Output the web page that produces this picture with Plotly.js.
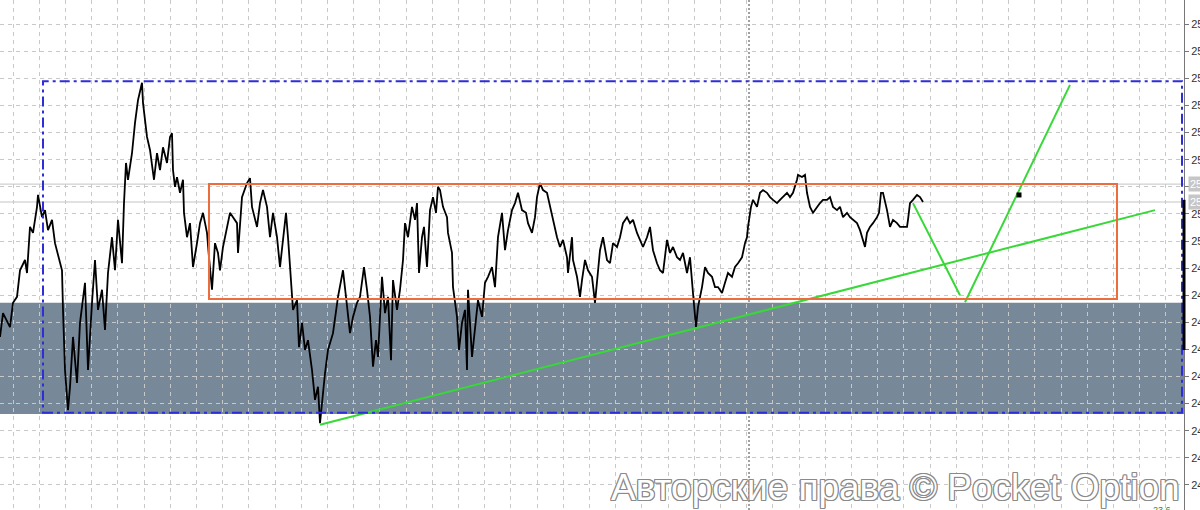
<!DOCTYPE html>
<html>
<head>
<meta charset="utf-8">
<script src="https://cdn.plot.ly/plotly-3.0.1.min.js"></script>
<style>html,body{margin:0;padding:0;background:#fff;}#chart{width:1200px;height:510px;}</style>
</head>
<body>
<div id="chart"></div>
<script>
// Bar index (time axis) of the price series
const barIndex = [0,3,10,13,17,20,25,27,30,33,37,38,42,45,48,52,55,59,62,63,65,67,68,70,73,77,80,85,88,92,95,98,102,105,108,112,115,118,122,124,126,128,132,135,138,142,143,147,150,154,157,160,163,167,170,172,173,175,177,180,183,184,187,190,193,197,200,203,207,209,212,215,218,
220,223,230,237,238,242,247,250,252,257,260,263,267,270,273,277,280,283,286,288,291,293,297,299,302,305,308,312,315,318,320,322,325,328,333,338,343,346,350,353,357,360,364,367,370,373,376,378,382,385,388,391,393,397,400,403,405,408,412,415,417,419,422,424,427,430,433,436,438,
440,443,447,448,452,453,457,459,462,465,467,468,472,475,478,482,485,488,492,495,498,502,505,508,512,515,518,522,526,528,532,535,537,540,543,547,550,553,557,560,563,567,568,572,573,577,580,582,585,588,592,595,597,600,603,607,610,613,617,620,623,627,630,633,637,640,643,647,650,653,657,660,663,667,670,673,677,
680,683,687,690,693,696,698,702,705,708,712,715,718,722,725,728,732,735,738,742,745,747,748,751,753,757,760,763,767,770,773,777,780,783,787,790,793,797,798,802,805,807,810,813,817,820,823,827,830,833,837,840,843,847,850,853,857,860,863,865,867,870,873,877,879,881,883,887,890,893,897,900,903,907,908,910,913,917,920,923];

// Close prices
const price = [24982.3,24986.7,24984.1,24988.6,24989.7,24994.6,24996.5,24994.1,25002.6,25001.5,25006.3,25008.5,25004.4,25005.7,25002.0,25003.9,24999.6,24996.5,24994.6,24987.3,24976.2,24971.2,24968.8,24973.1,24982.3,24973.8,24984.9,24992.3,24976.2,24988.6,24996.5,24987.3,24991.0,24983.6,24994.1,25000.7,24994.6,25003.9,24995.9,25007.0,25014.4,25011.3,25016.2,25021.8,25026.0,25029.2,25025.5,25019.2,25016.8,25011.3,25016.2,25013.1,25017.3,25014.4,25019.2,25019.9,25013.1,25010.0,25011.8,25008.9,25011.3,25005.2,25000.7,25003.3,24995.2,24999.6,25003.3,25005.2,25001.5,24997.0,24991.0,24999.6,24997.8,
24994.6,24998.9,25005.2,25003.3,24997.8,25008.1,25010.7,25011.6,25006.3,25002.6,25007.0,25009.4,25006.3,25000.7,25005.2,25000.7,24995.2,25000.7,25005.2,25000.7,24992.8,24987.3,24989.1,24980.4,24984.9,24979.9,24981.7,24976.2,24970.7,24973.1,24966.4,24970.7,24975.6,24979.9,24983.0,24989.7,24994.6,24989.7,24983.0,24986.0,24988.6,24989.7,24995.2,24991.0,24986.0,24976.8,24981.7,24978.6,24993.4,24986.7,24989.7,24978.0,24992.8,24987.3,24991.0,24996.5,25003.3,25000.7,25006.3,25003.9,25007.0,24994.1,25000.7,25002.6,24995.2,25005.7,25008.1,25005.2,25010.0,
25009.4,25006.3,25004.4,25001.5,24997.8,24991.5,24986.0,24979.9,24984.9,24987.3,24976.2,24991.0,24978.6,24984.1,24989.1,24986.0,24992.3,24993.4,24995.2,24991.5,25000.7,25005.2,24998.3,25002.0,25005.7,25007.0,25008.9,25005.7,25005.2,25003.3,25001.5,25004.4,25008.1,25010.7,25009.4,25008.9,25006.3,25003.9,25000.7,24998.9,25000.2,24997.0,24994.1,25000.7,24996.5,24993.4,24989.7,24992.8,24996.5,24994.6,24993.4,24988.6,24992.8,24998.3,25000.7,24996.5,24995.9,24999.6,24998.9,25000.7,25003.3,25004.4,25003.3,25003.9,25001.5,25000.2,24998.9,25000.7,25002.6,24998.3,24995.9,24994.6,24994.1,25000.2,24997.8,24998.9,24997.0,
24996.5,24997.8,24994.1,24997.0,24990.4,24984.1,24987.8,24991.5,24995.2,24994.1,24993.4,24991.5,24991.5,24990.4,24992.3,24994.1,24993.4,24995.2,24995.9,24997.0,24999.6,25000.7,25002.6,25006.3,25007.6,25006.3,25008.9,25009.4,25008.9,25008.1,25007.6,25007.0,25007.6,25008.1,25008.9,25008.1,25008.9,25011.3,25012.2,25011.8,25012.2,25008.9,25006.3,25005.2,25006.3,25007.0,25007.6,25007.6,25008.1,25006.3,25005.7,25006.3,25004.4,25005.2,25004.4,25003.9,25003.3,25002.0,25000.2,24998.9,25001.5,25002.6,25003.3,25004.4,25005.2,25008.9,25008.9,25005.7,25002.6,25003.9,25003.3,25002.6,25002.6,25002.6,25003.9,25007.0,25007.6,25008.5,25008.1,25007.2];

// Drawn objects (bar index / price)
const supportLineX = [320, 1155];
const supportLineY = [24966.1, 25005.7];
const forecastDownX = [913, 960];
const forecastDownY = [25007.0, 24990.0];
const forecastUpX = [965, 1070];
const forecastUpY = [24988.7, 25028.8];
const targetX = [1019];
const targetY = [25008.5];
const outerBox = {x: [43, 1182], y: [24968.3, 25029.5]};
const rangeBox = {x: [209, 1117], y: [24989.3, 25010.5]};
const demandZone = {y: [24968.1, 24988.6]};
const bidAsk = [25010.5, 25007.2];
const sessionBar = 749;

const X_MAX = 1184;
const Y_RANGE = [24950.37, 25044.47];
const yToPaper = v => (v - Y_RANGE[0]) / (Y_RANGE[1] - Y_RANGE[0]);

const green = '#37d837';
const traces = [
  {x: barIndex, y: price, type: 'scatter', mode: 'lines', line: {color: '#000', width: 1.8}, hoverinfo: 'skip'},
  {x: supportLineX, y: supportLineY, type: 'scatter', mode: 'lines', line: {color: green, width: 2}, hoverinfo: 'skip'},
  {x: forecastDownX, y: forecastDownY, type: 'scatter', mode: 'lines', line: {color: green, width: 2}, hoverinfo: 'skip'},
  {x: forecastUpX, y: forecastUpY, type: 'scatter', mode: 'lines', line: {color: green, width: 2}, hoverinfo: 'skip'},
  {x: targetX, y: targetY, type: 'scatter', mode: 'markers', marker: {symbol: 'square', size: 5, color: '#000'}, hoverinfo: 'skip'}
];

const shapes = [
  {type: 'rect', xref: 'x', yref: 'y', x0: 0, x1: X_MAX, y0: demandZone.y[0], y1: demandZone.y[1], fillcolor: '#778899', line: {width: 0}, layer: 'below'},
  {type: 'line', xref: 'x', yref: 'y', x0: 0, x1: X_MAX, y0: bidAsk[0], y1: bidAsk[0], line: {color: '#c4c4c4', width: 1}, layer: 'below'},
  {type: 'line', xref: 'x', yref: 'y', x0: 0, x1: X_MAX, y0: bidAsk[1], y1: bidAsk[1], line: {color: '#c4c4c4', width: 1}, layer: 'below'},
  {type: 'line', xref: 'x', yref: 'paper', x0: sessionBar, x1: sessionBar, y0: 0, y1: 1, line: {color: '#444', width: 1, dash: '2px,2px'}, layer: 'below'},
  {type: 'rect', xref: 'x', yref: 'y', x0: rangeBox.x[0], x1: rangeBox.x[1], y0: rangeBox.y[0], y1: rangeBox.y[1], line: {color: '#ec6c3c', width: 2}, fillcolor: 'rgba(0,0,0,0)', layer: 'above'},
  {type: 'rect', xref: 'x', yref: 'y', x0: outerBox.x[0], x1: outerBox.x[1], y0: outerBox.y[0], y1: outerBox.y[1], line: {color: '#2e2ed8', width: 2, dash: '10px,4px,3px,4px'}, fillcolor: 'rgba(0,0,0,0)', layer: 'above'},
  {type: 'line', xref: 'paper', yref: 'paper', x0: 1, x1: 1, y0: yToPaper(24979.9), y1: yToPaper(25007.6), line: {color: '#000', width: 3}, layer: 'above'}
];

const labelX = 1 + 4 / X_MAX;
const annotations = [
  {xref: 'paper', yref: 'paper', x: 0.9985, y: 0.045, xanchor: 'right', yanchor: 'middle', showarrow: false,
   text: 'Авторские права © Pocket Option',
   font: {family: 'Liberation Sans, Arial, sans-serif', size: 37, color: '#ffffff',
          shadow: '1px 1px 0 #8a8a8a, -1px -1px 0 #8a8a8a, 1px -1px 0 #8a8a8a, -1px 1px 0 #8a8a8a, 0 1px 0 #8a8a8a, 0 -1px 0 #8a8a8a, 1px 0 0 #8a8a8a, -1px 0 0 #8a8a8a'}},
  {xref: 'paper', yref: 'y', x: labelX, y: bidAsk[0], xanchor: 'left', yanchor: 'middle', showarrow: false, text: '25010.5',
   bgcolor: '#c6c6c6', font: {family: 'Liberation Sans, Arial', size: 11, color: '#fff'}, borderpad: 1},
  {xref: 'paper', yref: 'y', x: labelX, y: bidAsk[1], xanchor: 'left', yanchor: 'middle', showarrow: false, text: '25007.2',
   bgcolor: '#c6c6c6', font: {family: 'Liberation Sans, Arial', size: 11, color: '#fff'}, borderpad: 1},
  {xref: 'x', yref: 'paper', x: 1162, y: 0, xanchor: 'center', yanchor: 'middle', showarrow: false, text: '23.6',
   font: {family: 'Liberation Sans, Arial', size: 9, color: '#2e8b2e'}}
];

const layout = {
  width: 1200, height: 510,
  margin: {l: 0, r: 16, t: 0, b: 0, pad: 0},
  paper_bgcolor: '#fff', plot_bgcolor: '#fff',
  showlegend: false,
  xaxis: {range: [0, X_MAX], showticklabels: false, ticks: '', showgrid: true, tick0: 13, dtick: 26.2,
          gridcolor: '#c8c8c8', griddash: '4px,4px', gridwidth: 1, zeroline: false, showline: false, fixedrange: true},
  yaxis: {range: Y_RANGE, side: 'right', tick0: 25000, dtick: 5, tickformat: 'd',
          showgrid: true, gridcolor: '#c8c8c8', griddash: '4px,4px', gridwidth: 1, zeroline: false,
          showline: true, linecolor: '#777', linewidth: 1, ticks: 'outside', ticklen: 4, tickcolor: '#777',
          tickfont: {family: 'Liberation Sans, Arial', size: 11, color: '#333'}, fixedrange: true},
  shapes: shapes,
  annotations: annotations
};

Plotly.newPlot('chart', traces, layout, {staticPlot: true, displayModeBar: false});
</script>
</body>
</html>
